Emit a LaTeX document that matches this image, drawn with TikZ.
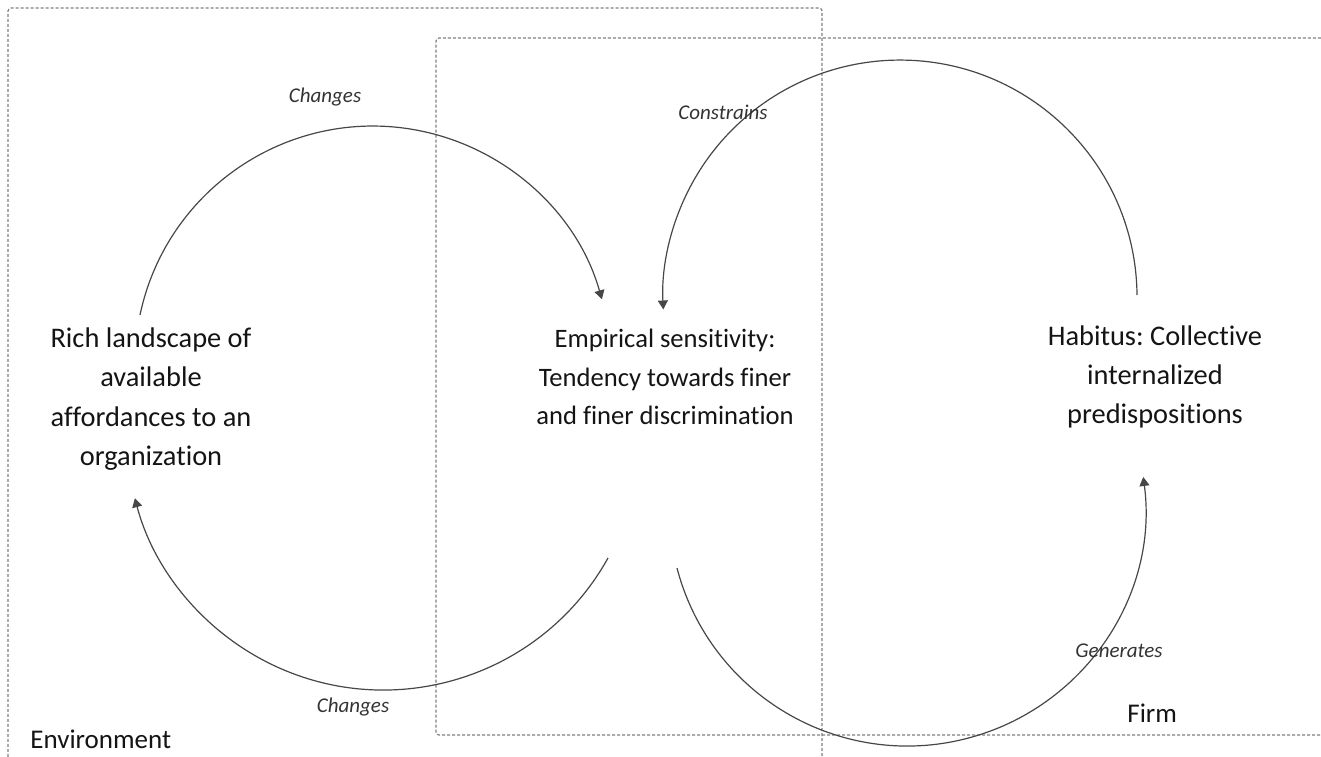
\documentclass[tikz,border=0pt]{standalone}
\usepackage{fontspec}
\setmainfont{Carlito}[Ligatures=NoCommon]
\frenchspacing
\usetikzlibrary{arrows.meta}
\begin{document}
\begin{tikzpicture}[x=0.5pt,y=0.5pt,
  boxline/.style={draw=black!50, line width=0.6pt, dash pattern=on 1.5pt off 1pt, rounded corners=1.5pt},
  loopline/.style={draw=black!72, line width=0.6pt, -{Triangle[length=4.5pt,width=5pt]}},
  maintext/.style={font=\fontsize{13.3}{19.2}\selectfont, text=black!92, align=center, inner sep=0pt},
  sidetext/.style={font=\fontsize{14.2}{19.6}\selectfont, text=black!92, align=center, inner sep=0pt},
  lbl/.style={font=\fontsize{10.5}{12}\selectfont\itshape, text=black!80, inner sep=0pt},
  boxlbl/.style={font=\fontsize{13.5}{15}\selectfont, text=black!92, inner sep=0pt, anchor=base west}]
\useasboundingbox (0,0) rectangle (1321,756);
% boxes
\draw[boxline] (822,-20) -- (822,748) -- (8,748) -- (8,-20);
\draw[boxline] (1345,21) -- (436,21) -- (436,718) -- (1345,718);
% texts
\node[sidetext] (rich) at (151,357) {Rich landscape of\\available\\affordances to an\\organization};
\node[maintext] (emp) at (665,379) {Empirical sensitivity:\\Tendency towards finer\\and finer discrimination};
\node[sidetext] (hab) at (1155,379) {Habitus: Collective\\internalized\\predispositions};
\node[boxlbl] (env) at (30,8) {Environment};
\node[boxlbl] (firm) at (1127,34) {Firm};
% arc end points
\coordinate (tlS) at (140,441);
\coordinate (trS) at (1137,461);
\coordinate (blS) at (608,198);
\coordinate (brS) at (677,188);
% arcs
\draw[loopline] (tlS) arc[start angle=168.1, end angle=15.8, radius=119pt];
\draw[loopline] (trS) arc[start angle=0.5, end angle=183, radius=118.5pt];
\draw[loopline] (blS) arc[start angle=-29.1, end angle=-165.3, radius=128.5pt];
\draw[loopline] (brS) arc[start angle=-165.4, end angle=7.5, radius=119pt];
% labels
\node[lbl] (l1) at (325,659) {Changes};
\node[lbl] (l2) at (723,644) {Constrains};
\node[lbl] (l3) at (353,49) {Changes};
\node[lbl] (l4) at (1119,105) {Generates};
\end{tikzpicture}
\end{document}
